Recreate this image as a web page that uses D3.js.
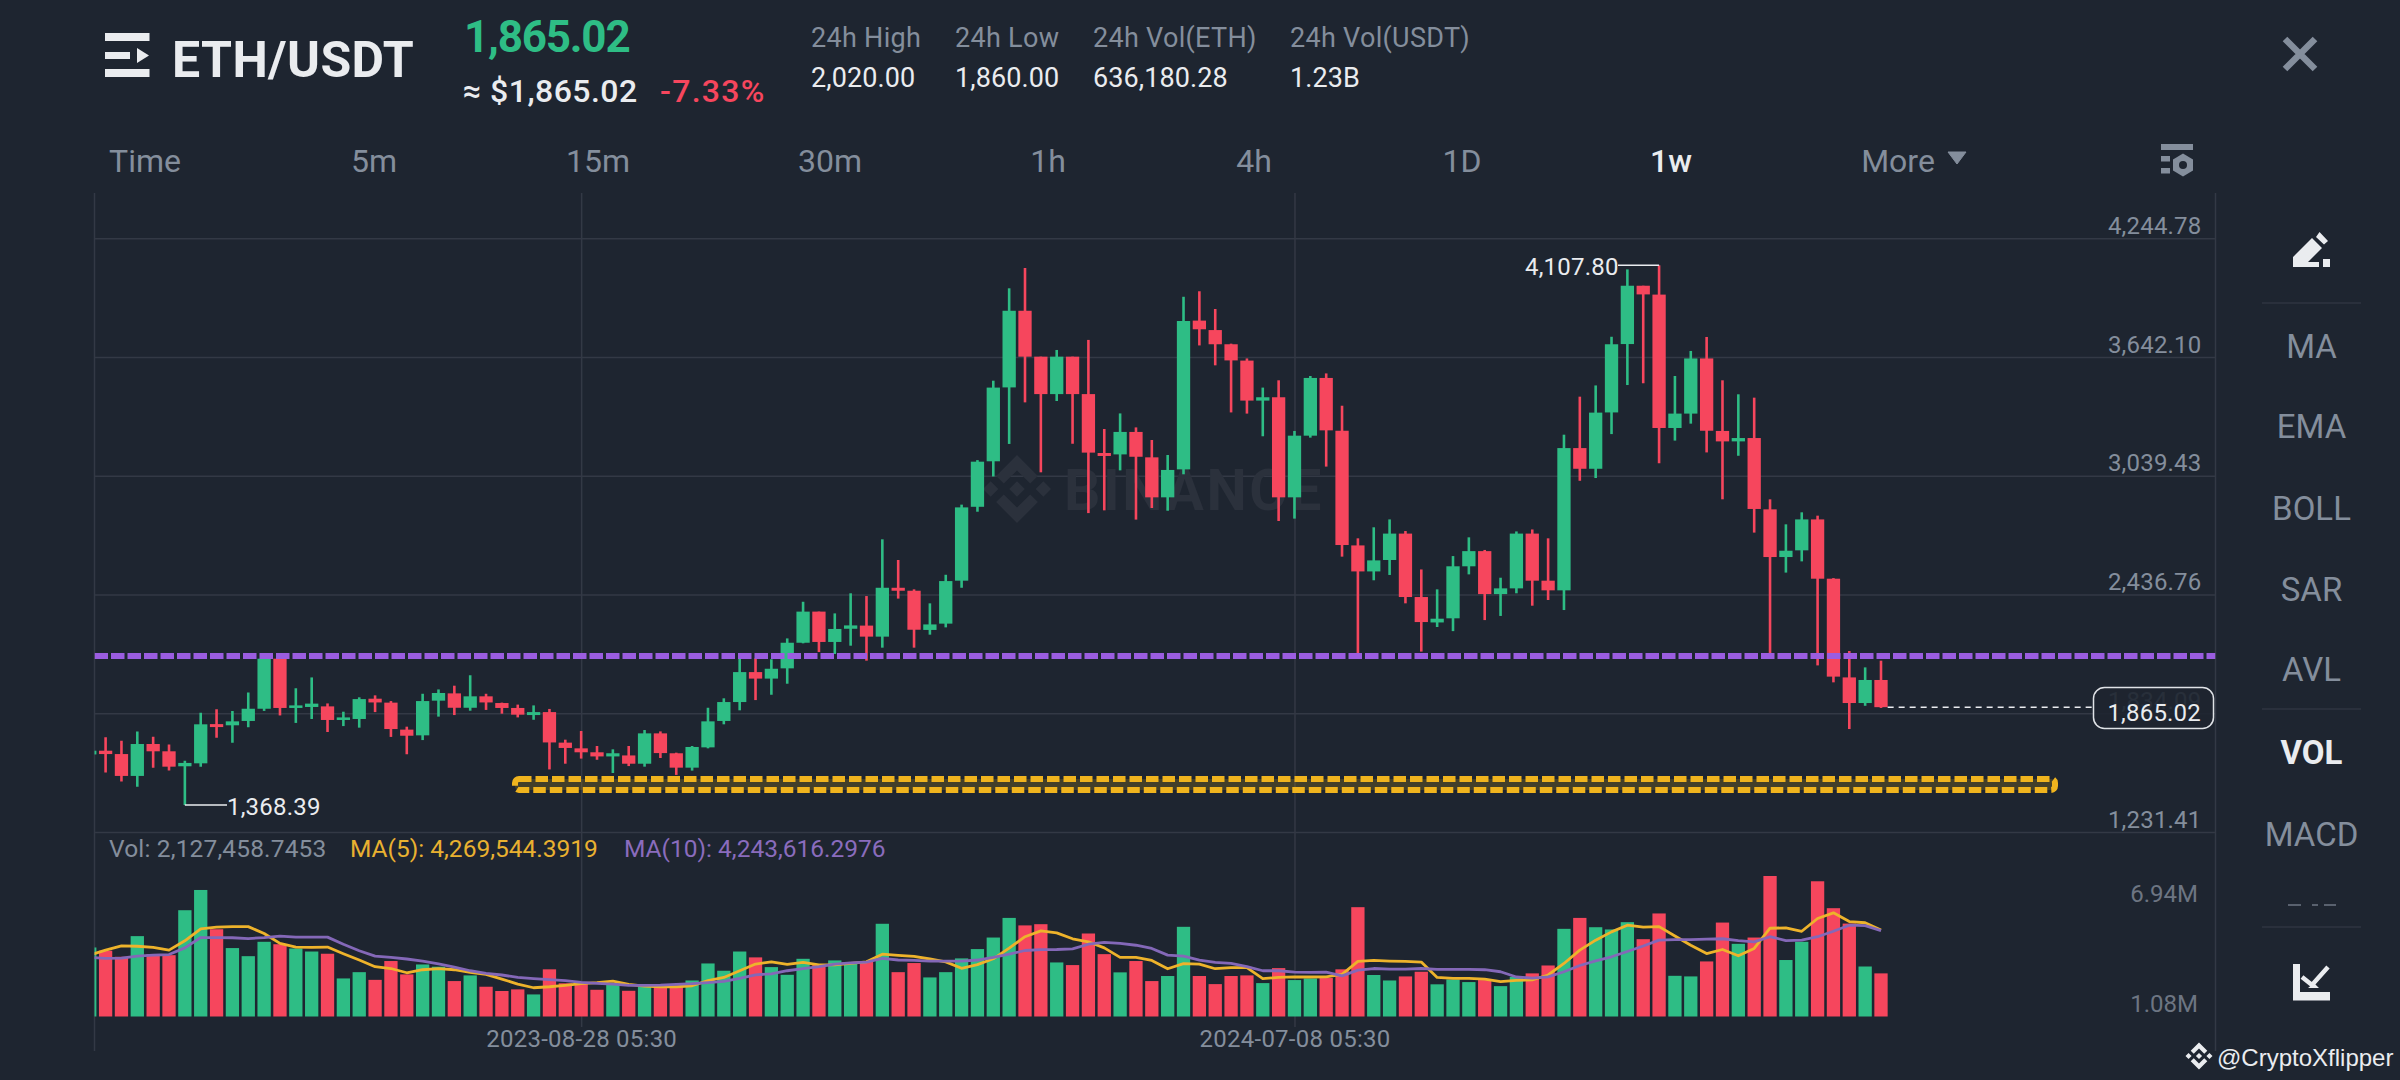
<!DOCTYPE html>
<html>
<head>
<meta charset="utf-8">
<style>
  body { margin: 0; background: #1e2530; }
  text { font-family: Roboto, sans-serif; }
</style>
</head>
<body>
<div id="chart"></div>
<script src="https://cdn.jsdelivr.net/npm/d3@7"></script>
<script>
// weekly candles. the first one is cut by the left edge
const opens = [
  1625, 1644, 1627, 1516, 1678, 1641, 1565, 1580, 1779, 1773,
  1795, 1857, 2111, 1861, 1866, 1869, 1800, 1805, 1908, 1888,
  1751, 1722, 1898, 1935, 1862, 1920, 1886, 1861, 1825, 1840,
  1685, 1656, 1636, 1615, 1620, 1578, 1732, 1631, 1558, 1661,
  1795, 1891, 2043, 2010, 2062, 2192, 2350, 2196, 2263, 2279,
  2223, 2471, 2456, 2257, 2289, 2507, 2882, 3113, 3488, 3877,
  3644, 3454, 3644, 3454, 3155, 3148, 3262, 3133, 2930, 3072,
  3827, 3779, 3707, 3624, 3421, 3438, 2930, 3243, 3536, 3268,
  2686, 2554, 2612, 2746, 2424, 2295, 2316, 2580, 2657, 2439,
  2468, 2746, 2507, 2458, 3180, 3075, 3361, 3708, 4004, 3959,
  3282, 3355, 3635, 3267, 3214, 3231, 2869, 2627, 2661, 2818,
  2517, 2016, 1886, 2003
]
const highs = [
  1650, 1712, 1695, 1741, 1715, 1675, 1593, 1837, 1854, 1845,
  1940, 2138, 2118, 1961, 2016, 1884, 1842, 1915, 1925, 1896,
  1766, 1933, 1955, 1974, 2027, 1933, 1888, 1878, 1874, 1856,
  1700, 1744, 1668, 1651, 1668, 1749, 1742, 1634, 1668, 1862,
  1910, 2113, 2113, 2108, 2214, 2400, 2350, 2341, 2443, 2429,
  2717, 2612, 2463, 2392, 2537, 2893, 3119, 3522, 3991, 4094,
  3644, 3678, 3644, 3729, 3277, 3356, 3285, 3221, 3145, 3948,
  3976, 3886, 3710, 3635, 3487, 3524, 3267, 3546, 3559, 3395,
  2722, 2778, 2818, 2759, 2564, 2463, 2632, 2727, 2663, 2522,
  2757, 2767, 2722, 3248, 3441, 3498, 3745, 4087, 4004, 4107.80,
  3546, 3673, 3744, 3524, 3453, 3436, 2920, 2793, 2854, 2837,
  2520, 2150, 2067, 2101
]
const lows = [
  1610, 1534, 1488, 1461, 1558, 1543, 1368.39, 1563, 1710, 1685,
  1763, 1846, 1823, 1785, 1805, 1739, 1769, 1761, 1840, 1714,
  1626, 1698, 1817, 1825, 1847, 1851, 1832, 1813, 1801, 1549,
  1578, 1604, 1598, 1531, 1566, 1563, 1607, 1521, 1543, 1656,
  1778, 1849, 1901, 1928, 1984, 2189, 2145, 2135, 2177, 2101,
  2167, 2416, 2167, 2233, 2270, 2471, 2857, 3036, 3201, 3412,
  3057, 3419, 3202, 2850, 2864, 3067, 2817, 2876, 2862, 3047,
  3701, 3600, 3361, 3355, 3240, 2810, 2822, 3233, 3086, 2629,
  2135, 2509, 2536, 2392, 2147, 2272, 2251, 2539, 2307, 2328,
  2443, 2380, 2409, 2358, 3014, 3028, 3251, 3500, 3509, 3103,
  3218, 3304, 3158, 2920, 3141, 2751, 2130, 2548, 2605, 2077,
  1991, 1754, 1872, 1861
]
const closes = [
  1644, 1627, 1516, 1678, 1641, 1563, 1582, 1778, 1764, 1793,
  1857, 2111, 1861, 1874, 1883, 1800, 1813, 1906, 1889, 1754,
  1720, 1896, 1937, 1862, 1920, 1889, 1861, 1827, 1840, 1686,
  1658, 1636, 1615, 1631, 1578, 1732, 1632, 1558, 1663, 1793,
  1891, 2043, 2010, 2060, 2192, 2350, 2196, 2262, 2280, 2223,
  2471, 2456, 2258, 2285, 2505, 2879, 3111, 3487, 3877, 3644,
  3454, 3644, 3454, 3157, 3140, 3262, 3136, 2930, 3069, 3825,
  3783, 3707, 3625, 3421, 3438, 2930, 3243, 3536, 3270, 2688,
  2554, 2610, 2746, 2424, 2297, 2314, 2580, 2657, 2439, 2468,
  2746, 2507, 2458, 3180, 3075, 3360, 3707, 4004, 3960, 3282,
  3355, 3635, 3268, 3214, 3231, 2871, 2627, 2659, 2818, 2517,
  2020, 1886, 2003, 1865.02
]
// volume in millions
const volumes = [
  3.41, 3.25, 2.95, 3.97, 3.08, 3.03, 5.25, 6.25, 4.31, 3.38,
  2.98, 3.69, 3.57, 3.36, 3.21, 3.10, 1.88, 2.19, 1.81, 2.74,
  2.08, 2.57, 2.46, 1.75, 2.03, 1.47, 1.26, 1.34, 1.09, 2.33,
  1.64, 1.64, 1.32, 1.64, 1.27, 1.47, 1.47, 1.47, 1.78, 2.62,
  2.26, 3.21, 2.92, 2.44, 2.06, 2.85, 2.59, 2.77, 2.62, 2.70,
  4.58, 2.19, 2.64, 1.93, 2.19, 2.87, 3.33, 3.90, 4.87, 4.50,
  4.56, 2.67, 2.54, 4.10, 3.08, 2.18, 2.74, 1.75, 2.00, 4.43,
  2.00, 1.60, 2.00, 2.03, 1.65, 2.39, 1.80, 1.88, 1.90, 2.33,
  5.40, 2.05, 1.78, 1.98, 2.21, 1.59, 1.83, 1.70, 1.80, 1.50,
  1.96, 2.13, 2.52, 4.33, 4.87, 4.41, 4.30, 4.66, 3.82, 5.09,
  2.01, 1.98, 2.72, 4.64, 3.59, 3.90, 6.94, 2.79, 3.69, 6.68,
  5.35, 4.59, 2.47, 2.13
]
const ma5 = [
  3.03, 3.28, 3.49, 3.47, 3.41, 3.28, 3.74, 4.33, 4.41, 4.44,
  4.44, 4.10, 3.61, 3.43, 3.41, 3.43, 3.10, 2.79, 2.46, 2.37,
  2.16, 2.31, 2.36, 2.31, 2.18, 2.08, 1.85, 1.60, 1.42, 1.47,
  1.54, 1.62, 1.67, 1.75, 1.59, 1.50, 1.47, 1.47, 1.52, 1.77,
  1.93, 2.26, 2.59, 2.70, 2.57, 2.67, 2.55, 2.55, 2.62, 2.70,
  3.08, 3.02, 2.97, 2.84, 2.70, 2.38, 2.56, 2.85, 3.38, 3.94,
  4.23, 4.13, 3.84, 3.69, 3.39, 2.92, 2.92, 2.77, 2.36, 2.61,
  2.59, 2.36, 2.41, 2.41, 1.87, 1.93, 1.96, 1.95, 1.96, 2.08,
  2.72, 2.77, 2.74, 2.72, 2.69, 1.93, 1.88, 1.88, 1.85, 1.72,
  1.78, 1.81, 2.05, 2.62, 3.28, 3.77, 4.18, 4.51, 4.41, 4.44,
  3.98, 3.52, 3.11, 3.31, 3.00, 3.36, 4.36, 4.38, 4.21, 4.84,
  5.12, 4.69, 4.63, 4.27
]
const ma10 = [
  2.92, 2.87, 2.88, 2.98, 3.03, 3.06, 3.39, 3.90, 3.90, 3.89,
  3.85, 3.90, 3.97, 3.92, 3.92, 3.92, 3.57, 3.25, 2.98, 2.92,
  2.84, 2.74, 2.60, 2.44, 2.26, 2.13, 2.05, 1.93, 1.87, 1.82,
  1.77, 1.69, 1.64, 1.60, 1.54, 1.54, 1.55, 1.59, 1.62, 1.67,
  1.73, 1.88, 2.06, 2.11, 2.26, 2.37, 2.46, 2.59, 2.65, 2.69,
  2.87, 2.79, 2.77, 2.74, 2.74, 2.74, 2.79, 2.92, 3.08, 3.26,
  3.30, 3.31, 3.34, 3.57, 3.66, 3.61, 3.52, 3.36, 3.03, 2.98,
  2.79, 2.67, 2.62, 2.46, 2.26, 2.26, 2.19, 2.18, 2.19, 2.01,
  2.29, 2.37, 2.34, 2.34, 2.37, 2.33, 2.33, 2.33, 2.31, 2.21,
  1.95, 1.90, 1.96, 2.21, 2.52, 2.75, 2.95, 3.21, 3.48, 3.77,
  3.80, 3.80, 3.82, 3.84, 3.75, 3.69, 3.94, 3.75, 3.77, 3.94,
  4.21, 4.51, 4.49, 4.24
]

const priceTicks = [4244.78, 3642.10, 3039.43, 2436.76, 1834.09, 1231.41]
const volTicks = [6.94, 1.08]
const timeTicks = [31, 76]
const timeLabels = ['2023-08-28 05:30', '2024-07-08 05:30']
const tabs = ['Time', '5m', '15m', '30m', '1h', '4h', '1D', '1w', 'More']
const indicators = ['MA', 'EMA', 'BOLL', 'SAR', 'AVL', 'VOL', 'MACD']
const statLabels = ['24h High', '24h Low', '24h Vol(ETH)', '24h Vol(USDT)']
const statValues = ['2,020.00', '1,860.00', '636,180.28', '1.23B']
const resistance = 2124.8
const supportBand = [1501, 1445]
const lastPrice = 1865.02
const highest = 4107.80
const lowest = 1368.39

const bg = '#1e2530'
const green = '#2ebd85'
const red = '#f6465d'
const grey = '#848e9c'
const white = '#eaecef'
const gridColor = '#333945'
const yellow = '#f0b90b'
const plotLeft = 94.5
const plotRight = 2215.5

const svg = d3.select('#chart').append('svg')
  .attr('width', 2400).attr('height', 1080)
  .style('display', 'block')
  .style('background', bg)

const x = d3.scaleLinear().domain([0, opens.length - 1]).range([89.75, 1881])
const y = d3.scaleLinear().domain([1231.41, 4244.78]).range([832, 238.3])
const yVol = d3.scaleLinear().domain([0, 6.94]).range([1016.5, 876])
const volLabelY = d3.scaleLinear().domain([1.08, 6.94]).range([1016.5, 906.5])
const bodyWidth = 13.3
const isUp = i => closes[i] >= opens[i]
const color = i => isUp(i) ? green : red

function label(parent, px, py, str, size, fill, opts = {}) {
  return parent.append('text')
    .attr('x', px).attr('y', py)
    .attr('font-size', size)
    .attr('fill', fill)
    .attr('font-weight', opts.weight || 400)
    .attr('text-anchor', opts.anchor || 'start')
    .attr('letter-spacing', opts.spacing || 0)
    .text(str)
}

svg.append('clipPath').attr('id', 'plot')
  .append('rect').attr('x', plotLeft).attr('y', 190).attr('width', plotRight - plotLeft).attr('height', 870)

// ---- grid, through the axes
svg.append('g')
  .attr('transform', `translate(${plotRight},0)`)
  .call(d3.axisLeft(y).tickValues(priceTicks).tickSize(plotRight - plotLeft).tickFormat(d3.format(',.2f')))
  .call(g => g.select('.domain').remove())
  .call(g => g.selectAll('line').attr('stroke', gridColor).attr('stroke-width', 1.5))
  .call(g => g.selectAll('text').attr('x', -14).attr('dy', -5).attr('text-anchor', 'end')
    .attr('font-size', 24).attr('fill', grey).attr('font-family', 'Roboto').attr('letter-spacing', 0.2))

svg.append('g')
  .attr('transform', 'translate(0,1027)')
  .call(d3.axisBottom(x).tickValues(timeTicks).tickSize(-834).tickFormat((d, i) => timeLabels[i]))
  .call(g => g.select('.domain').remove())
  .call(g => g.selectAll('line').attr('stroke', gridColor).attr('stroke-width', 1.5))
  .call(g => g.selectAll('text').attr('y', 19.5).attr('dy', 0)
    .attr('font-size', 24).attr('fill', grey).attr('font-family', 'Roboto').attr('letter-spacing', 0.25))

svg.append('g')
  .attr('transform', 'translate(2198,0)')
  .call(d3.axisLeft(volLabelY).tickValues(volTicks).tickSize(0).tickFormat(d => d.toFixed(2) + 'M'))
  .call(g => g.select('.domain').remove())
  .call(g => g.selectAll('text').attr('x', 0).attr('dy', -5).attr('text-anchor', 'end')
    .attr('font-size', 24).attr('fill', '#6d7582').attr('font-family', 'Roboto'))

svg.selectAll('line.edge').data([plotLeft, plotRight]).join('line')
  .attr('class', 'edge')
  .attr('x1', d => d).attr('x2', d => d)
  .attr('y1', 193).attr('y2', 1051)
  .attr('stroke', gridColor).attr('stroke-width', 1.5)

// ---- faint exchange mark behind the candles
const logoPath = 'M38.73 53.2L63.3 28.64L87.88 53.22L102.18 38.93L63.3 0L24.43 38.9Z' +
  'M0 63.31L14.3 49L28.6 63.3L14.3 77.6Z' +
  'M63.3 48.8L77.8 63.3L63.3 77.8L48.8 63.3Z' +
  'M87.88 73.37L63.3 97.97L38.73 73.41L24.4 87.7L63.3 126.6L102.2 87.7Z' +
  'M97.99 63.31L112.3 49L126.6 63.3L112.3 77.6Z'
const logo = (cx, cy, size, fill) => svg.append('path')
  .attr('d', logoPath)
  .attr('transform', `translate(${cx - size / 2},${cy - size / 2}) scale(${size / 126.6})`)
  .attr('fill', fill)

logo(1017, 489, 68, '#2b313c')
label(svg, 1064, 510, 'BINANCE', 57, '#2b313c', {weight: 700, spacing: 2.6})

// ---- candles
const idx = d3.range(opens.length)
const plot = svg.append('g').attr('clip-path', 'url(#plot)')

plot.selectAll('line.wick').data(idx).join('line')
  .attr('class', 'wick')
  .attr('x1', i => x(i)).attr('x2', i => x(i))
  .attr('y1', i => y(highs[i])).attr('y2', i => y(lows[i]))
  .attr('stroke', color).attr('stroke-width', 2.6)

plot.selectAll('rect.body').data(idx).join('rect')
  .attr('class', 'body')
  .attr('x', i => x(i) - bodyWidth / 2)
  .attr('width', bodyWidth)
  .attr('y', i => y(Math.max(opens[i], closes[i])))
  .attr('height', i => Math.abs(y(opens[i]) - y(closes[i])))
  .attr('fill', color)

// ---- drawn levels
plot.append('line')
  .attr('x1', plotLeft).attr('x2', plotRight)
  .attr('y1', y(resistance)).attr('y2', y(resistance))
  .attr('stroke', '#9b5de0').attr('stroke-width', 6)
  .attr('stroke-dasharray', '13.5 3')

plot.append('rect')
  .attr('x', 515).attr('width', 1540)
  .attr('y', y(supportBand[0])).attr('height', y(supportBand[1]) - y(supportBand[0]))
  .attr('rx', 4)
  .attr('fill', yellow).attr('fill-opacity', 0.18)
  .attr('stroke', '#f0b41e').attr('stroke-width', 6)
  .attr('stroke-dasharray', '12.5 4')

// ---- high, low and last price notes
const iHigh = highs.indexOf(highest)
const iLow = lows.indexOf(lowest)
svg.append('line')
  .attr('x1', 1618).attr('x2', x(iHigh))
  .attr('y1', y(highest)).attr('y2', y(highest))
  .attr('stroke', white).attr('stroke-width', 1.5)
label(svg, 1525, 275, d3.format(',.2f')(highest), 24, white, {spacing: 0.2})

svg.append('line')
  .attr('x1', x(iLow)).attr('x2', 227)
  .attr('y1', y(lowest)).attr('y2', y(lowest))
  .attr('stroke', white).attr('stroke-width', 1.5)
label(svg, 227, 815, d3.format(',.2f')(lowest), 24, white, {spacing: 0.2})

svg.append('line')
  .attr('x1', x(opens.length - 1) + bodyWidth / 2).attr('x2', 2093)
  .attr('y1', y(lastPrice)).attr('y2', y(lastPrice))
  .attr('stroke', white).attr('stroke-width', 1.5)
  .attr('stroke-dasharray', '6 5')
svg.append('rect')
  .attr('x', 2093.5).attr('y', 687.5).attr('width', 120).attr('height', 41).attr('rx', 11)
  .attr('fill', bg).attr('fill-opacity', 0.9)
  .attr('stroke', '#dfe2e6').attr('stroke-width', 1.5)
label(svg, 2201, 720.5, d3.format(',.2f')(lastPrice), 24, white, {anchor: 'end', spacing: 0.2})

// ---- volume
plot.selectAll('rect.vol').data(idx).join('rect')
  .attr('class', 'vol')
  .attr('x', i => x(i) - bodyWidth / 2)
  .attr('width', bodyWidth)
  .attr('y', i => yVol(volumes[i]))
  .attr('height', i => yVol(0) - yVol(volumes[i]))
  .attr('fill', color)

const maLine = values => d3.line().x((d, i) => x(i)).y(d => yVol(d))(values)
plot.append('path').attr('d', maLine(ma5))
  .attr('fill', 'none').attr('stroke', '#eeb32b').attr('stroke-width', 2.8).attr('stroke-linejoin', 'round')
plot.append('path').attr('d', maLine(ma10))
  .attr('fill', 'none').attr('stroke', '#8468b8').attr('stroke-width', 2.8).attr('stroke-linejoin', 'round')

label(svg, 109, 857, 'Vol: 2,127,458.7453', 24.5, grey, {spacing: 0.15})
label(svg, 350, 857, 'MA(5): 4,269,544.3919', 24.5, '#e9b130')
label(svg, 624, 857, 'MA(10): 4,243,616.2976', 24.5, '#8a6cbd')

// ---- header
svg.append('g').attr('fill', white).selectAll('rect')
  .data([[105, 33, 44.5, 8], [105, 52, 25, 7], [105, 69, 44.5, 8]]).join('rect')
  .attr('x', d => d[0]).attr('y', d => d[1]).attr('width', d => d[2]).attr('height', d => d[3])
svg.append('path').attr('d', 'M137 48L149 55.5L137 63Z').attr('fill', white)

label(svg, 172, 77, 'ETH/USDT', 50, white, {weight: 700, spacing: 0.4})
label(svg, 464, 52, '1,865.02', 44, green, {weight: 700, spacing: -1.2})
label(svg, 463, 102, '≈ $1,865.02', 32, white, {weight: 500, spacing: 0.45})
label(svg, 660, 102, '-7.33%', 32, red, {weight: 500, spacing: 1.3})

const statX = [811, 955, 1093, 1290]
statLabels.forEach((s, i) => {
  label(svg, statX[i], 47, s, 27, grey, {spacing: 0.3})
  label(svg, statX[i], 87, statValues[i], 27, white, {spacing: 0.1})
})

const tabX = [145, 374, 598, 830, 1048, 1254, 1462, 1671, 1898]
tabs.forEach((s, i) => {
  const active = s === '1w'
  label(svg, tabX[i], 172, s, 32, active ? white : grey, {anchor: 'middle', weight: active ? 500 : 400})
})
svg.append('path').attr('d', 'M1948 152L1966 152L1957 164Z').attr('fill', grey).attr('stroke', grey).attr('stroke-linejoin', 'round')

// settings icon
svg.append('g').attr('fill', grey).selectAll('rect')
  .data([[2161, 144, 32, 6], [2161, 156, 9, 5.5], [2161, 168, 9, 5.5]]).join('rect')
  .attr('x', d => d[0]).attr('y', d => d[1]).attr('width', d => d[2]).attr('height', d => d[3])
svg.append('path').attr('d', 'M2183 153.5L2193 159.5L2193 170.5L2183 176.5L2173 170.5L2173 159.5Z').attr('fill', grey)
svg.append('circle').attr('cx', 2183).attr('cy', 165).attr('r', 4).attr('fill', bg)

// close
svg.append('path').attr('d', 'M2285 39L2315 69M2315 39L2285 69')
  .attr('stroke', grey).attr('stroke-width', 6.5).attr('fill', 'none')

// ---- right hand tool column
const indicatorY = [358, 438, 520, 600.5, 681, 764, 846]
indicators.forEach((s, i) => {
  const active = s === 'VOL'
  label(svg, 2311.5, indicatorY[i], s, 33, active ? white : grey, {anchor: 'middle', weight: active ? 700 : 400})
})
svg.selectAll('line.divider').data([303, 709, 927]).join('line')
  .attr('class', 'divider')
  .attr('x1', 2262).attr('x2', 2361).attr('y1', d => d).attr('y2', d => d)
  .attr('stroke', '#2f3540').attr('stroke-width', 1.5)

// top of the next entry, cut off by the list
svg.append('path').attr('d', 'M2288 905H2301M2312 905H2318M2324 905H2336')
  .attr('stroke', '#6d7582').attr('stroke-width', 1.5)

// pencil
svg.append('path').attr('fill', white)
  .attr('d', 'M2293 267L2293 257L2312 238L2322 248L2308 262L2319 262L2319 267Z' +
    'M2316 237L2319.5 232L2328 241L2324 244.5Z' +
    'M2323 259H2330V267H2323Z')

// chart icon
svg.append('path').attr('fill', white)
  .attr('d', 'M2293 964H2300V992H2330V1000.5H2293ZM2308 988L2314 983L2319 988Z')
svg.append('path').attr('d', 'M2302 977L2312 985L2328 967')
  .attr('fill', 'none').attr('stroke', white).attr('stroke-width', 4.5)

// ---- reposter mark
logo(2199, 1056, 27, white)
label(svg, 2217, 1066, '@CryptoXflipper', 24, white).style('font-family', 'Liberation Sans')
</script>
</body>
</html>
